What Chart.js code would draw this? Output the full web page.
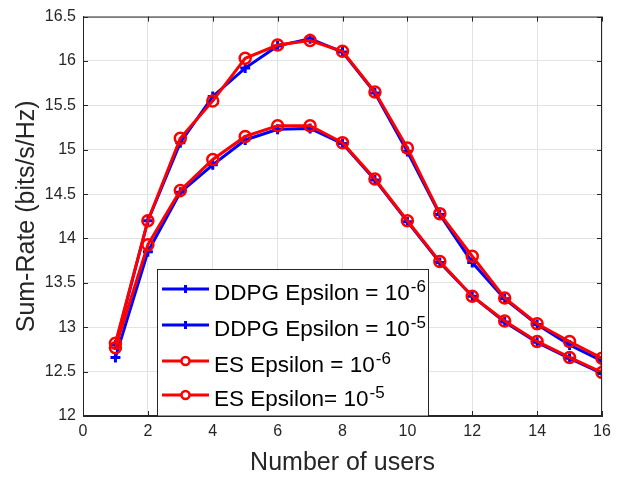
<!DOCTYPE html>
<html>
    <head>
        <title>Sum-Rate vs Number of users</title>
        <meta charset="UTF-8">
        <script src="https://cdn.jsdelivr.net/npm/chart.js@4.4.1/dist/chart.umd.min.js"></script>
        <style>
            body { margin: 0; background: #fff; }
        </style>
    </head>
    <body>
        <canvas id="myChart" width="626" height="478"></canvas>
        <script>
            var users = [1, 2, 3, 4, 5, 6, 7, 8, 9, 10, 11, 12, 13, 14, 15, 16];
            var xTicks = [0, 2, 4, 6, 8, 10, 12, 14, 16];
            var yTicks = [12, 12.5, 13, 13.5, 14, 14.5, 15, 15.5, 16, 16.5];

            var ddpgEps6 = [12.80, 14.20, 15.08, 15.60, 15.92, 16.17, 16.25, 16.10, 15.64, 14.98, 14.27, 13.73, 13.32, 13.03, 12.80, 12.62];
            var ddpgEps5 = [12.66, 13.85, 14.52, 14.83, 15.11, 15.23, 15.24, 15.07, 14.66, 14.19, 13.73, 13.35, 13.06, 12.83, 12.65, 12.48];
            var esEps6 = [12.82, 14.20, 15.13, 15.55, 16.03, 16.18, 16.23, 16.11, 15.65, 15.02, 14.28, 13.80, 13.33, 13.04, 12.84, 12.65];
            var esEps5 = [12.77, 13.93, 14.54, 14.89, 15.15, 15.27, 15.27, 15.08, 14.67, 14.20, 13.74, 13.35, 13.07, 12.84, 12.66, 12.49];

            var legendText = ['DDPG Epsilon = 10', 'DDPG Epsilon = 10', 'ES Epsilon = 10', 'ES Epsilon= 10'];
            var legendExp = ['-6', '-5', '-6', '-5'];

            var FONT = 'Liberation Sans, Arial, Helvetica, sans-serif';
            var AXIS = '#262626';

            function pts(ys) {
                return users.map(function (u, i) { return { x: u, y: ys[i] }; });
            }

            function ddpgSet(label, ys) {
                return {
                    label: label, data: pts(ys), order: 2,
                    borderColor: '#0000ff', backgroundColor: '#0000ff',
                    borderWidth: 3, pointStyle: 'cross', pointRadius: 5,
                    pointBorderWidth: 3, tension: 0
                };
            }
            function esSet(label, ys) {
                return {
                    label: label, data: pts(ys), order: 1,
                    borderColor: '#ff0000', backgroundColor: 'rgba(0,0,0,0)',
                    borderWidth: 3, pointStyle: 'circle', pointRadius: 5.5,
                    pointBorderWidth: 2.5, tension: 0
                };
            }

            // box round the axes, inward ticks, and the legend with superscripts
            var matlabBox = {
                id: 'matlabBox',
                afterDraw: function (chart) {
                    var ctx = chart.ctx, a = chart.chartArea;
                    var xs = chart.scales.x, ys = chart.scales.y;
                    ctx.save();
                    ctx.strokeStyle = AXIS;
                    ctx.lineWidth = 1;
                    ctx.strokeRect(a.left + 0.5, a.top + 0.5, a.right - a.left - 1, a.bottom - a.top - 1);
                    ctx.beginPath();
                    xTicks.forEach(function (v) {
                        var px = Math.round(xs.getPixelForValue(v)) + 0.5;
                        ctx.moveTo(px, a.bottom); ctx.lineTo(px, a.bottom - 5);
                        ctx.moveTo(px, a.top); ctx.lineTo(px, a.top + 5);
                    });
                    yTicks.forEach(function (v) {
                        var py = Math.round(ys.getPixelForValue(v)) + 0.5;
                        ctx.moveTo(a.left, py); ctx.lineTo(a.left + 5, py);
                        ctx.moveTo(a.right, py); ctx.lineTo(a.right - 5, py);
                    });
                    ctx.stroke();

                    // legend
                    var bl = 157, bt = 269, br = 428, bb = a.bottom;
                    ctx.fillStyle = '#fff';
                    ctx.fillRect(bl, bt, br - bl, bb - bt);
                    ctx.strokeStyle = AXIS;
                    ctx.strokeRect(bl + 0.5, bt + 0.5, br - bl, bb - bt - 0.5);
                    var rows = [289, 325, 361, 395];
                    var legendSets = [0, 1, 2, 3].map(function (i) { return chart.data.datasets[i]; });
                    legendSets.forEach(function (ds, i) {
                        var y = rows[i];
                        ctx.strokeStyle = ds.borderColor;
                        ctx.lineWidth = 3;
                        ctx.beginPath();
                        ctx.moveTo(162, y); ctx.lineTo(209, y);
                        ctx.stroke();
                        ctx.beginPath();
                        if (ds.pointStyle === 'cross') {
                            ctx.moveTo(185.5, y - 4); ctx.lineTo(185.5, y + 4);
                        } else {
                            ctx.lineWidth = 2.5;
                            ctx.fillStyle = '#fff';
                            ctx.arc(185.5, y, 4, 0, Math.PI * 2);
                            ctx.fill();
                        }
                        ctx.stroke();
                        ctx.fillStyle = '#000';
                        ctx.textBaseline = 'alphabetic';
                        ctx.textAlign = 'left';
                        ctx.font = '22.5px ' + FONT;
                        ctx.fillText(legendText[i], 214, y + 11);
                        var w = ctx.measureText(legendText[i]).width;
                        ctx.font = '17px ' + FONT;
                        ctx.fillText(legendExp[i], 214 + w + 1, y + 3);
                    });
                    ctx.restore();
                }
            };

            var ctx = document.getElementById('myChart').getContext('2d');
            var chart = new Chart(ctx, {
                type: 'line',
                data: {
                    datasets: [
                        ddpgSet('DDPG Epsilon = 10^-6', ddpgEps6),
                        ddpgSet('DDPG Epsilon = 10^-5', ddpgEps5),
                        esSet('ES Epsilon = 10^-6', esEps6),
                        esSet('ES Epsilon= 10^-5', esEps5)
                    ]
                },
                options: {
                    responsive: false,
                    animation: false,
                    devicePixelRatio: 1,
                    layout: { padding: { top: 13, right: 24, left: 0, bottom: 0 } },
                    plugins: {
                        legend: { display: false },
                        tooltip: { enabled: false }
                    },
                    scales: {
                        x: {
                            type: 'linear', min: 0, max: 16,
                            afterBuildTicks: function (s) { s.ticks = xTicks.map(function (v) { return { value: v }; }); },
                            afterFit: function (s) { s.height = 62; },
                            grid: { color: '#e3e3e3', drawTicks: false },
                            border: { color: AXIS },
                            ticks: {
                                padding: 6, color: AXIS, font: { family: FONT, size: 16 },
                                callback: function (v) { return String(v); }
                            },
                            title: {
                                display: true, text: 'Number of users', color: AXIS,
                                font: { family: FONT, size: 25 }, padding: 0
                            }
                        },
                        y: {
                            min: 12, max: 16.5,
                            afterBuildTicks: function (s) { s.ticks = yTicks.map(function (v) { return { value: v }; }); },
                            afterFit: function (s) { s.width = 83; },
                            grid: { color: '#e3e3e3', drawTicks: false },
                            border: { color: AXIS },
                            ticks: {
                                padding: 7, color: AXIS, font: { family: FONT, size: 16 },
                                callback: function (v) { return String(v); }
                            },
                            title: {
                                display: true, text: 'Sum-Rate (bits/s/Hz)', color: AXIS,
                                font: { family: FONT, size: 25 }, padding: { top: 12, bottom: 0 }
                            }
                        }
                    }
                },
                plugins: [matlabBox]
            });
        </script>
    </body>
</html>
